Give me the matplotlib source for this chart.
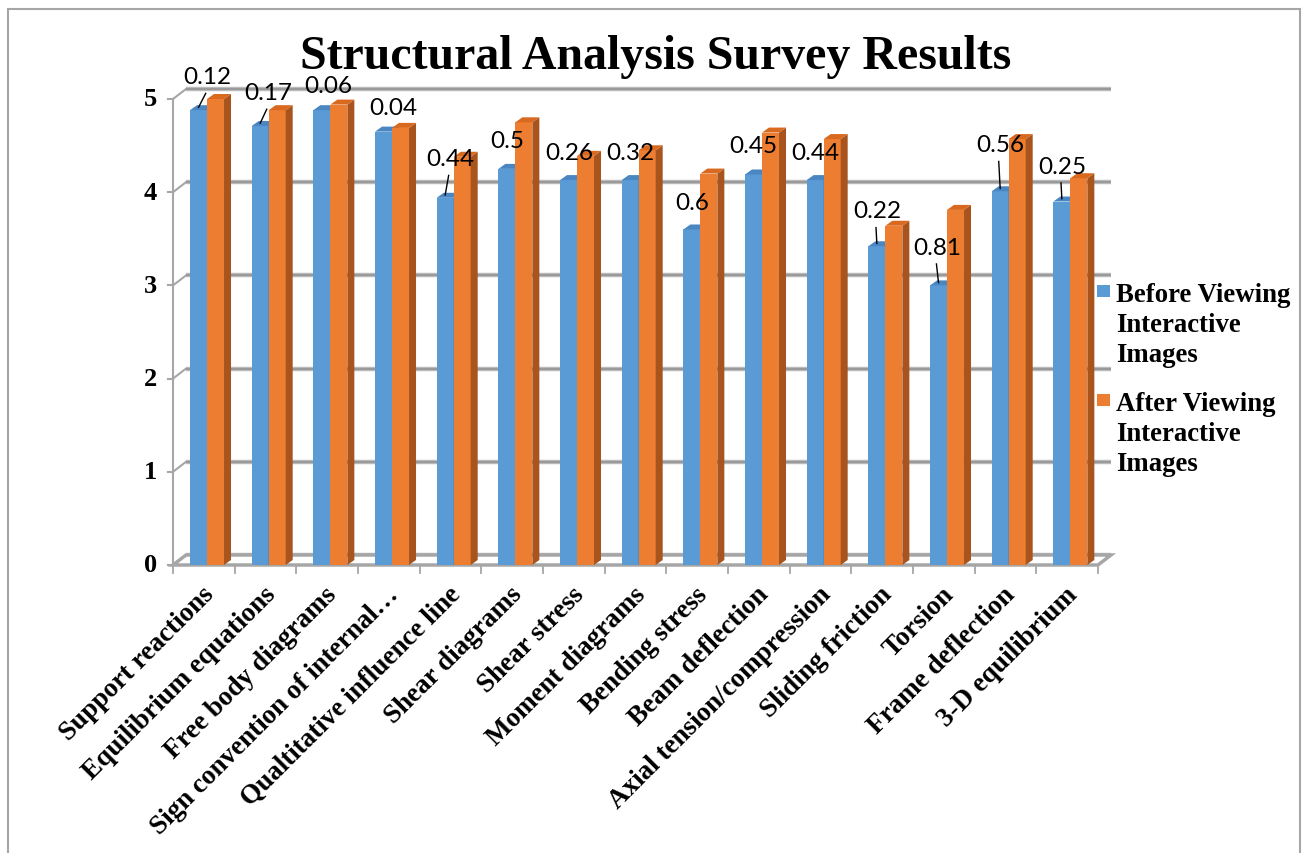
import matplotlib
matplotlib.use("Agg")
import matplotlib.pyplot as plt
from matplotlib.patches import Polygon, Rectangle

categories = ["Support reactions", "Equilibrium equations", "Free body diagrams",
              "Sign convention of internal\u2026", "Qualtitative influence line",
              "Shear diagrams", "Shear stress", "Moment diagrams", "Bending stress",
              "Beam deflection", "Axial tension/compression", "Sliding friction",
              "Torsion", "Frame deflection", "3-D equilibrium"]
before = [4.88, 4.71, 4.88, 4.65, 3.94, 4.25, 4.13, 4.13, 3.60, 4.19, 4.13, 3.42, 3.00, 4.01, 3.90]
after = [5.00, 4.88, 4.94, 4.69, 4.38, 4.75, 4.39, 4.45, 4.20, 4.64, 4.57, 3.64, 3.81, 4.57, 4.15]
diff_labels = ["0.12", "0.17", "0.06", "0.04", "0.44", "0.5", "0.26", "0.32", "0.6",
               "0.45", "0.44", "0.22", "0.81", "0.56", "0.25"]
series_names = ["Before Viewing\nInteractive\nImages", "After Viewing\nInteractive\nImages"]
yticks = [0, 1, 2, 3, 4, 5]

# label placement (style): (dx from category, absolute y), leader line flag
label_pos = [(0.05, 5.24), (0.04, 5.07), (0.02, 5.14), (0.07, 4.91), (-0.01, 4.36),
             (-0.08, 4.55), (-0.08, 4.43), (-0.09, 4.43), (-0.08, 3.89), (-0.095, 4.50),
             (-0.09, 4.43), (-0.08, 3.80), (-0.10, 3.41), (-0.09, 4.51), (-0.08, 4.28)]
leader = [True, True, False, False, True, False, False, False, False, False, False,
          True, True, True, True]

W, H = 1304, 854
fig = plt.figure(figsize=(W / 100, H / 100), dpi=100)
ax = fig.add_axes([0, 0, 1, 1])
ax.set_axis_off()

# pixel geometry of plot (front plane)
x0px, x1px = 173, 1098
n = len(categories)
pxu = (x1px - x0px) / n
y0px, pyu = 566, 93.2
ax.set_xlim(-0.5 - x0px / pxu, -0.5 + (W - x0px) / pxu)
ax.set_ylim(-(H - y0px) / pyu, y0px / pyu)

DX, DY = 13 / pxu, 10 / pyu        # back wall offset
bdx, bdy = 7 / pxu, 5 / pyu        # bar depth
bw = 17 / pxu
grid_c = "#A6A6A6"

xl, xr = -0.5, n - 0.5
# back-wall gridlines
for t in yticks:
    ax.plot([xl + DX, xr + DX], [t + DY, t + DY], color="#BFBFBF", lw=3.2, zorder=1,
            solid_capstyle="butt")
    ax.plot([xl + DX, xr + DX], [t + DY, t + DY], color="#9A9A9A", lw=1.6, zorder=1.1,
            solid_capstyle="butt")
    ax.plot([xl, xl + DX], [t, t + DY], color=grid_c, lw=1.5, zorder=1)
    ax.plot([xl - 0.08, xl], [t, t], color=grid_c, lw=1.5, zorder=1)
    ax.text(xl - 0.26, t, str(t), ha="right", va="center", fontsize=19,
            fontweight="bold", family="Liberation Serif")
# left axis
ax.plot([xl, xl], [0, yticks[-1]], color=grid_c, lw=1.5, zorder=1)
# floor
ax.add_patch(Polygon([(xl, 0), (xr, 0), (xr + DX, DY), (xl + DX, DY)], closed=True,
                     facecolor="white", edgecolor=grid_c, lw=2.5, zorder=1.2))
for k in range(n + 1):
    xk = xl + k
    ax.plot([xk, xk], [0, -0.09], color=grid_c, lw=1.3, zorder=1)


def bar3d(xleft, h, front, top, side):
    ax.add_patch(Rectangle((xleft, 0), bw, h, facecolor=front, edgecolor="none", zorder=3))
    ax.add_patch(Polygon([(xleft + bw, 0), (xleft + bw + bdx, bdy), (xleft + bw + bdx, h + bdy),
                          (xleft + bw, h)], closed=True, facecolor=side, edgecolor="none",
                         zorder=3))
    ax.add_patch(Polygon([(xleft, h), (xleft + bw, h), (xleft + bw + bdx, h + bdy),
                          (xleft + bdx, h + bdy)], closed=True, facecolor=top,
                         edgecolor="none", zorder=3))


for i in range(n):
    bl = i - 0.224
    bar3d(bl, before[i], "#5B9BD5", "#4A86C2", "#3F6F9E")
    bar3d(bl + bw, after[i], "#ED7D31", "#D8691F", "#A8541C")

# data labels
for i in range(n):
    dx, ly = label_pos[i]
    ax.text(i + dx, ly, diff_labels[i], ha="center", va="center", fontsize=17.5,
            family="Lato", color="black", zorder=5)
    if leader[i]:
        bx = i - 0.224 + bw / 2
        ax.plot([bx, i + dx - 0.02], [before[i] + 0.03, ly - 0.18], color="black",
                lw=1, zorder=5)

# category labels
for i, c in enumerate(categories):
    ax.text(i + 0.1, -0.27, c, rotation=45, rotation_mode="anchor", ha="right",
            va="center", fontsize=19.5, fontweight="bold", family="Liberation Serif")

# title
fig.text(0.503, 1 - 57 / H, "Structural Analysis Survey Results", ha="center",
         va="center", fontsize=34.5, fontweight="bold", family="Liberation Serif")

# legend
colors = ["#5B9BD5", "#ED7D31"]
for k, (name, col) in enumerate(zip(series_names, colors)):
    ytop = 283 + k * 109
    fig.patches.append(Rectangle((1097 / W, 1 - (ytop + 15) / H), 13 / W, 12 / H,
                                 transform=fig.transFigure, facecolor=col, edgecolor="none"))
    fig.text(1116 / W, 1 - ytop / H, name, ha="left", va="top", fontsize=19.3,
             fontweight="bold", family="Liberation Serif", linespacing=1.27)

# chart frame
fig.patches.append(Rectangle((8 / W, -0.05), (1300 - 8) / W, 1.05 - 10 / H,
                             transform=fig.transFigure, facecolor="none",
                             edgecolor="#A6A6A6", lw=1.5))

fig.savefig("out.png", dpi=100)
